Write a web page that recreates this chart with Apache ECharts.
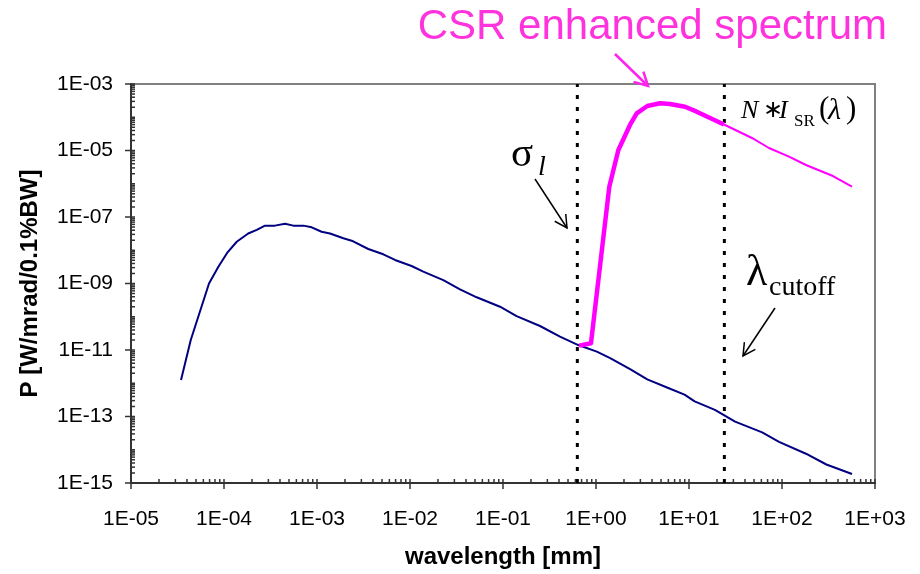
<!DOCTYPE html>
<html><head><meta charset="utf-8">
<script src="https://cdn.jsdelivr.net/npm/echarts@6/dist/echarts.min.js"></script>
<style>html,body{margin:0;padding:0;background:#fff}#c{width:920px;height:574px}</style>
</head><body><div id="c"></div>
<script>
// ---- data ----
const blueX = [3.45e-5, 4.39e-5, 6.9e-5, 8.7e-5, 1.08e-4, 1.37e-4, 1.82e-4, 2.25e-4, 2.76e-4, 3.53e-4, 4.53e-4, 5.56e-4, 7.13e-4, 8.77e-4, 1.12e-3, 1.38e-3, 1.92e-3, 2.36e-3, 3.56e-3, 5.16e-3, 6.9e-3, 1.04e-2, 1.39e-2, 2.28e-2, 3.45e-2, 5.21e-2, 9.29e-2, 0.14, 0.25, 0.41, 0.645, 1.02, 1.42, 2.35, 3.56, 5.89, 8.95, 11.5, 19.0, 31.3, 61.2, 92.9, 181, 300, 566];
const blueY = [1.26e-12, 2.0e-11, 1.0e-9, 3.2e-9, 8.3e-9, 1.8e-8, 3.2e-8, 4.1e-8, 5.5e-8, 5.5e-8, 6.3e-8, 5.5e-8, 5.5e-8, 4.9e-8, 3.6e-8, 3.2e-8, 2.29e-8, 1.94e-8, 1.09e-8, 7.55e-9, 5.1e-9, 3.36e-9, 2.27e-9, 1.27e-9, 6.7e-10, 3.85e-10, 2.0e-10, 1.05e-10, 5.27e-11, 2.51e-11, 1.41e-11, 8.9e-12, 5.7e-12, 2.63e-12, 1.31e-12, 7.3e-13, 4.56e-13, 2.85e-13, 1.59e-13, 7.0e-14, 3.33e-14, 1.72e-14, 7.6e-15, 3.6e-15, 1.87e-15];
const csrX = [0.66, 0.883, 1.39, 1.74, 2.32, 2.74, 3.56, 4.88, 6.25, 9.06, 12.1, 23.8];
const csrY = [1.35e-11, 1.59e-11, 8.15e-7, 1.04e-5, 5.85e-5, 1.31e-4, 2.18e-4, 2.63e-4, 2.5e-4, 2.07e-4, 1.47e-4, 6.05e-5];
const tailX = [23.8, 47.5, 72.4, 119, 181, 353, 566];
const tailY = [6.05e-5, 2.38e-5, 1.19e-5, 6.56e-6, 3.66e-6, 1.71e-6, 8.26e-7];
const sigmaL = 0.63;
const lambdaCutoff = 24;
const xRange = [1e-5, 1e3];
const yExpRange = [-15, -3];
const yLabelExps = [-15, -13, -11, -9, -7, -5, -3];

function fmtExp(e) {
  e = Math.round(e);
  return '1E' + (e < 0 ? '-' : '+') + String(Math.abs(e)).padStart(2, '0');
}
const lg = v => Math.log10(v);

// tick marks (axis decoration, log-spaced)
const tickData = [];
for (let n = Math.round(lg(xRange[0])); n <= Math.round(lg(xRange[1])); n++) {
  tickData.push([Math.pow(10, n), yExpRange[0], 0]);
  if (n < Math.round(lg(xRange[1]))) for (let k = 2; k <= 9; k++) tickData.push([k * Math.pow(10, n), yExpRange[0], 1]);
}
for (let n = yExpRange[0]; n <= yExpRange[1]; n++) {
  tickData.push([xRange[0], n, yLabelExps.indexOf(n) >= 0 ? 2 : 3]);
  if (n < yExpRange[1]) for (let k = 2; k <= 9; k++) tickData.push([xRange[0], n + lg(k), 3]);
}

const chart = echarts.init(document.getElementById('c'), null, {renderer: 'canvas'});
const SANS = '"Liberation Sans", Arial, sans-serif';
const SERIF = '"Liberation Serif", "Times New Roman", serif';

function arrow(x1, y1, x2, y2, color, w, len, ang) {
  const a = Math.atan2(y2 - y1, x2 - x1) + Math.PI;
  const r = ang * Math.PI / 180;
  return [
    {type: 'line', z: 100, shape: {x1, y1, x2, y2}, style: {stroke: color, lineWidth: w}},
    {type: 'polyline', z: 100, shape: {points: [
      [x2 + len * Math.cos(a - r), y2 + len * Math.sin(a - r)], [x2, y2],
      [x2 + len * Math.cos(a + r), y2 + len * Math.sin(a + r)]]},
      style: {stroke: color, lineWidth: w, fill: null}}
  ];
}
function txt(x, y, text, font, fill, align) {
  return {type: 'text', x, y, z: 100, style: {text, font, fill: fill || '#000', align: align || 'left', verticalAlign: 'middle'}};
}

const graphics = [].concat(
  [txt(887, 27, 'CSR enhanced spectrum', '42px ' + SANS, '#ff33dd', 'right')],
  arrow(615, 54, 648, 86, '#ff22ee', 2.5, 15, 28),
  [txt(511, 155, 'σ', '41px ' + SERIF), txt(538, 168, 'l', 'italic 28px ' + SERIF)],
  arrow(535, 179, 567, 228, '#000', 1.5, 14, 28),
  [txt(746, 273, 'λ', '44px ' + SERIF), txt(769, 288, 'cutoff', '28px ' + SERIF)],
  arrow(775, 308, 743, 356, '#000', 1.5, 14, 28),
  [txt(741, 111, 'N', 'italic 26px ' + SERIF), txt(763, 111, '∗', '24px ' + SERIF),
   txt(779, 111, 'I', 'italic 26px ' + SERIF), txt(794, 122, 'SR', '17px ' + SERIF),
   txt(819, 110, '(', '31px ' + SERIF), txt(828, 111, 'λ', 'italic 30px ' + SERIF),
   txt(846, 110, ')', '31px ' + SERIF)]
);

const option = {
  animation: false,
  backgroundColor: '#fff',
  grid: {left: 131, right: 45, top: 84, bottom: 91, show: true, borderColor: '#808080', borderWidth: 2},
  xAxis: {
    type: 'log', logBase: 10, min: xRange[0], max: xRange[1],
    axisLine: {lineStyle: {color: '#333', width: 2}},
    axisTick: {show: false}, splitLine: {show: false}, minorTick: {show: false},
    axisLabel: {formatter: v => fmtExp(lg(v)), fontSize: 21, color: '#000', margin: 26, fontFamily: SANS},
    name: 'wavelength [mm]', nameLocation: 'middle', nameGap: 62,
    nameTextStyle: {fontWeight: 'bold', fontSize: 24, fontFamily: SANS, color: '#000'}
  },
  yAxis: {
    type: 'value', min: yExpRange[0], max: yExpRange[1], interval: 1,
    axisLine: {lineStyle: {color: '#333', width: 2}},
    axisTick: {show: false}, splitLine: {show: false},
    axisLabel: {formatter: v => (yLabelExps.indexOf(Math.round(v)) >= 0 ? fmtExp(v) : ''), fontSize: 21, color: '#000', margin: 18, fontFamily: SANS},
    name: 'P [W/mrad/0.1%BW]', nameLocation: 'middle', nameGap: 89,
    nameTextStyle: {fontWeight: 'bold', fontSize: 24, fontFamily: SANS, color: '#000'}
  },
  series: [
    {type: 'line', name: 'sigma', symbol: 'none', z: 1, silent: true,
     data: [[sigmaL, yExpRange[0]], [sigmaL, yExpRange[1]]],
     lineStyle: {color: '#000', width: 3, type: [4, 8]}},
    {type: 'line', name: 'cutoff', symbol: 'none', z: 1, silent: true,
     data: [[lambdaCutoff, yExpRange[0]], [lambdaCutoff, yExpRange[1]]],
     lineStyle: {color: '#000', width: 3, type: [4, 8]}},
    {type: 'line', name: 'SR', symbol: 'none', z: 3,
     data: blueX.map((x, i) => [x, lg(blueY[i])]),
     lineStyle: {color: '#000080', width: 2}},
    {type: 'line', name: 'CSR', symbol: 'none', z: 4,
     data: csrX.map((x, i) => [x, lg(csrY[i])]),
     lineStyle: {color: '#ff00ff', width: 4.5, join: 'round'}},
    {type: 'line', name: 'CSR tail', symbol: 'none', z: 4,
     data: tailX.map((x, i) => [x, lg(tailY[i])]),
     lineStyle: {color: '#ff00ff', width: 2}},
    {type: 'custom', name: 'ticks', z: 5, silent: true, clip: false,
     data: tickData, encode: {x: 0, y: 1},
     renderItem: function (params, api) {
       const k = api.value(2);
       const p = api.coord([api.value(0), api.value(1)]);
       let s;
       if (k === 0) s = {x1: p[0], y1: p[1] - 4, x2: p[0], y2: p[1] + 6};
       else if (k === 1) s = {x1: p[0], y1: p[1] - 4, x2: p[0], y2: p[1]};
       else if (k === 2) s = {x1: p[0] - 6, y1: p[1], x2: p[0] + 4, y2: p[1]};
       else s = {x1: p[0], y1: p[1], x2: p[0] + 4, y2: p[1]};
       return {type: 'line', shape: s, style: {stroke: '#333', lineWidth: 1.5}};
     }}
  ],
  graphic: graphics
};
chart.setOption(option);
</script>
</body></html>
